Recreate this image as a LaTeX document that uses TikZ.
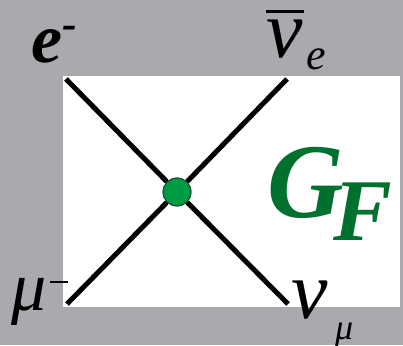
\documentclass[tikz,border=0pt]{standalone}
\usepackage{fontspec}
\setmainfont{Liberation Serif}
\definecolor{bggray}{RGB}{168,170,173}
\definecolor{dotgreen}{RGB}{0,154,68}
\definecolor{dotedge}{RGB}{20,60,30}
\definecolor{gfgreen}{RGB}{0,112,46}
\begin{document}
\begin{tikzpicture}[x=1pt,y=1pt,
  leg/.style={line width=5pt, black},
  lbl/.style={inner sep=0pt, anchor=base west, font=\fontsize{62}{62}\selectfont\itshape},
  sublbl/.style={inner sep=0pt, anchor=base west, font=\fontsize{40}{40}\selectfont\itshape}]
\fill[bggray] (0,0) rectangle (403,345);
\useasboundingbox (0,0) rectangle (403,345);
\fill[white] (63,38) rectangle (400,269);
\coordinate (ea) at (66,266);
\coordinate (nm) at (288,41);
\coordinate (mu) at (67,41);
\coordinate (ne) at (287,266);
\node[circle, fill=dotgreen, draw=dotedge, line width=0.8pt, minimum size=28pt, inner sep=0pt] (v) at (177,153) {};
\draw[leg] (ea) -- (v);
\draw[leg] (v) -- (nm);
\draw[leg] (mu) -- (v);
\draw[leg] (v) -- (ne);
\node[circle, fill=dotgreen, draw=dotedge, line width=0.8pt, minimum size=28pt, inner sep=0pt] at (v) {};
% labels
\node[lbl, font=\fontsize{70}{70}\selectfont\bfseries\itshape] (le) at (31,282) {e\raisebox{24pt}{\fontsize{44}{44}\selectfont -}};
\node[lbl, font=\fontsize{82}{82}\selectfont\itshape] (lnubar) at (266,287) {\makebox[0pt][l]{\rule[45pt]{38pt}{2.5pt}}ν};
\node[sublbl, font=\fontsize{44}{44}\selectfont\itshape] (lnubare) at (306,275) {e};
\node[lbl, font=\fontsize{70}{70}\selectfont\itshape] (lmu) at (11,35) {μ};
\node[inner sep=0pt] (lmum) at (59,63) {\rule{18pt}{2.5pt}};
\node[lbl, font=\fontsize{82}{82}\selectfont\itshape] (lnumu) at (291,27) {ν};
\node[sublbl, font=\fontsize{36}{36}\selectfont\itshape] (lnumus) at (335,6) {μ};
\node[lbl, font=\fontsize{106}{106}\selectfont\bfseries\itshape, text=gfgreen] (lg) at (267,128) {G};
\node[lbl, font=\fontsize{88}{88}\selectfont\bfseries\itshape, text=gfgreen] (lf) at (333,105) {F};
\end{tikzpicture}
\end{document}
